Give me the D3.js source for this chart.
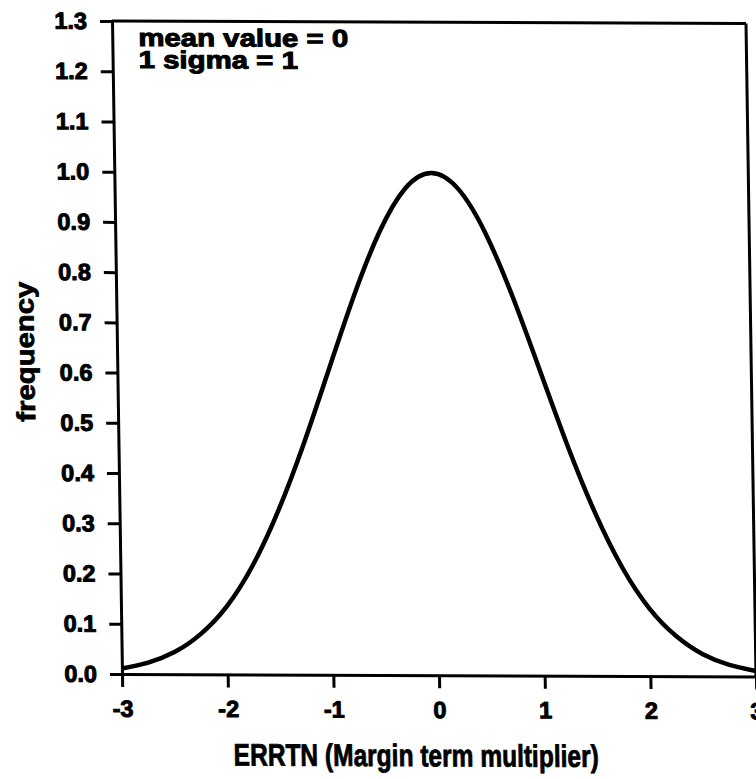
<!DOCTYPE html>
<html>
<head>
<meta charset="utf-8">
<script src="https://cdn.jsdelivr.net/npm/d3@7"></script>
<style>
  html, body { margin: 0; padding: 0; background: #fff; }
  svg { display: block; }
  text { font-family: "Liberation Sans", Arial, Helvetica, sans-serif; font-weight: bold; fill: #000; }
</style>
</head>
<body>
<svg id="chart" width="756" height="779"></svg>
<script>
// Normalised frequency curve of the ERRTN margin-term multiplier
const errtn = [-3, -2.75, -2.5, -2.25, -2, -1.75, -1.5, -1.25, -1, -0.75, -0.5, -0.25,
               0, 0.25, 0.5, 0.75, 1, 1.25, 1.5, 1.75, 2, 2.25, 2.5, 2.75, 3];
const frequency = [0.011, 0.023, 0.044, 0.080, 0.135, 0.216, 0.325, 0.458, 0.607, 0.755, 0.882, 0.969,
                   1.000, 0.969, 0.882, 0.755, 0.607, 0.458, 0.325, 0.216, 0.135, 0.080, 0.044, 0.023, 0.011];

const xTickValues = [-3, -2, -1, 0, 1, 2, 3];
const yTickValues = [0, 0.1, 0.2, 0.3, 0.4, 0.5, 0.6, 0.7, 0.8, 0.9, 1.0, 1.1, 1.2, 1.3];
const xTitle = "ERRTN (Margin term multiplier)";
const yTitle = "frequency";
const noteLines = ["mean value = 0", "1 sigma = 1"];

const svg = d3.select("#chart");
const plot = { left: 112, right: 746, top: 21, bottom: 674 };

// the printed page sits slightly sheared on the sheet
const root = svg.append("g")
  .attr("transform", "matrix(1,0.004,0.0153,1,-0.32,-0.45)");

const x = d3.scaleLinear().domain([-3, 3]).range([plot.left, plot.right]);
const y = d3.scaleLinear().domain([0, 1.3]).range([plot.bottom, plot.top]);

// axes
const xAxis = root.append("g")
  .attr("transform", `translate(0,${plot.bottom})`)
  .call(d3.axisBottom(x).tickValues(xTickValues).tickSize(13).tickSizeOuter(0).tickPadding(13)
        .tickFormat(d => d < 0 ? "-" + Math.abs(d) : String(d)));
const yAxis = root.append("g")
  .attr("transform", `translate(${plot.left},0)`)
  .call(d3.axisLeft(y).tickValues(yTickValues).tickSize(12).tickSizeOuter(0).tickPadding(13)
        .tickFormat(d3.format(".1f")));

[xAxis, yAxis].forEach(g => {
  g.attr("font-family", null).attr("font-size", null);
  g.select(".domain").attr("stroke", "#000").attr("stroke-width", 3);
  g.selectAll(".tick line").attr("stroke", "#000").attr("stroke-width", 3);
  g.selectAll(".tick text")
    .attr("font-size", 23.5)
    .attr("stroke", "#000").attr("stroke-width", 1);
});

// frame: top and right edges
root.append("line")
  .attr("x1", plot.left).attr("x2", plot.right).attr("y1", plot.top).attr("y2", plot.top)
  .attr("stroke", "#000").attr("stroke-width", 3);
root.append("line")
  .attr("x1", plot.right).attr("x2", plot.right).attr("y1", plot.top).attr("y2", plot.bottom)
  .attr("stroke", "#000").attr("stroke-width", 3);

// curve
const line = d3.line()
  .x((d, i) => x(errtn[i]))
  .y(d => y(d))
  .curve(d3.curveNatural);
root.append("path")
  .datum(frequency)
  .attr("d", line)
  .attr("fill", "none")
  .attr("stroke", "#000")
  .attr("stroke-width", 4.5)
  .attr("stroke-linejoin", "round");

// annotation, drawn in a slightly widened face
const note = root.append("g").attr("transform", "translate(138,0) scale(1.2,1)");
note.selectAll("text").data(noteLines).join("text")
  .attr("x", 0)
  .attr("y", (d, i) => 46 + i * 22)
  .attr("font-size", 24.5)
  .attr("stroke", "#000").attr("stroke-width", 1)
  .text(d => d);

// axis titles
root.append("text")
  .attr("x", 405).attr("y", 765)
  .attr("text-anchor", "middle")
  .attr("font-size", 31)
  .attr("textLength", 365)
  .attr("lengthAdjust", "spacingAndGlyphs")
  .attr("stroke", "#000").attr("stroke-width", 0.8)
  .text(xTitle);

root.append("text")
  .attr("transform", "translate(29,352) rotate(-90)")
  .attr("text-anchor", "middle")
  .attr("font-size", 26)
  .attr("textLength", 140)
  .attr("lengthAdjust", "spacingAndGlyphs")
  .attr("stroke", "#000").attr("stroke-width", 0.8)
  .text(yTitle);
</script>
</body>
</html>
